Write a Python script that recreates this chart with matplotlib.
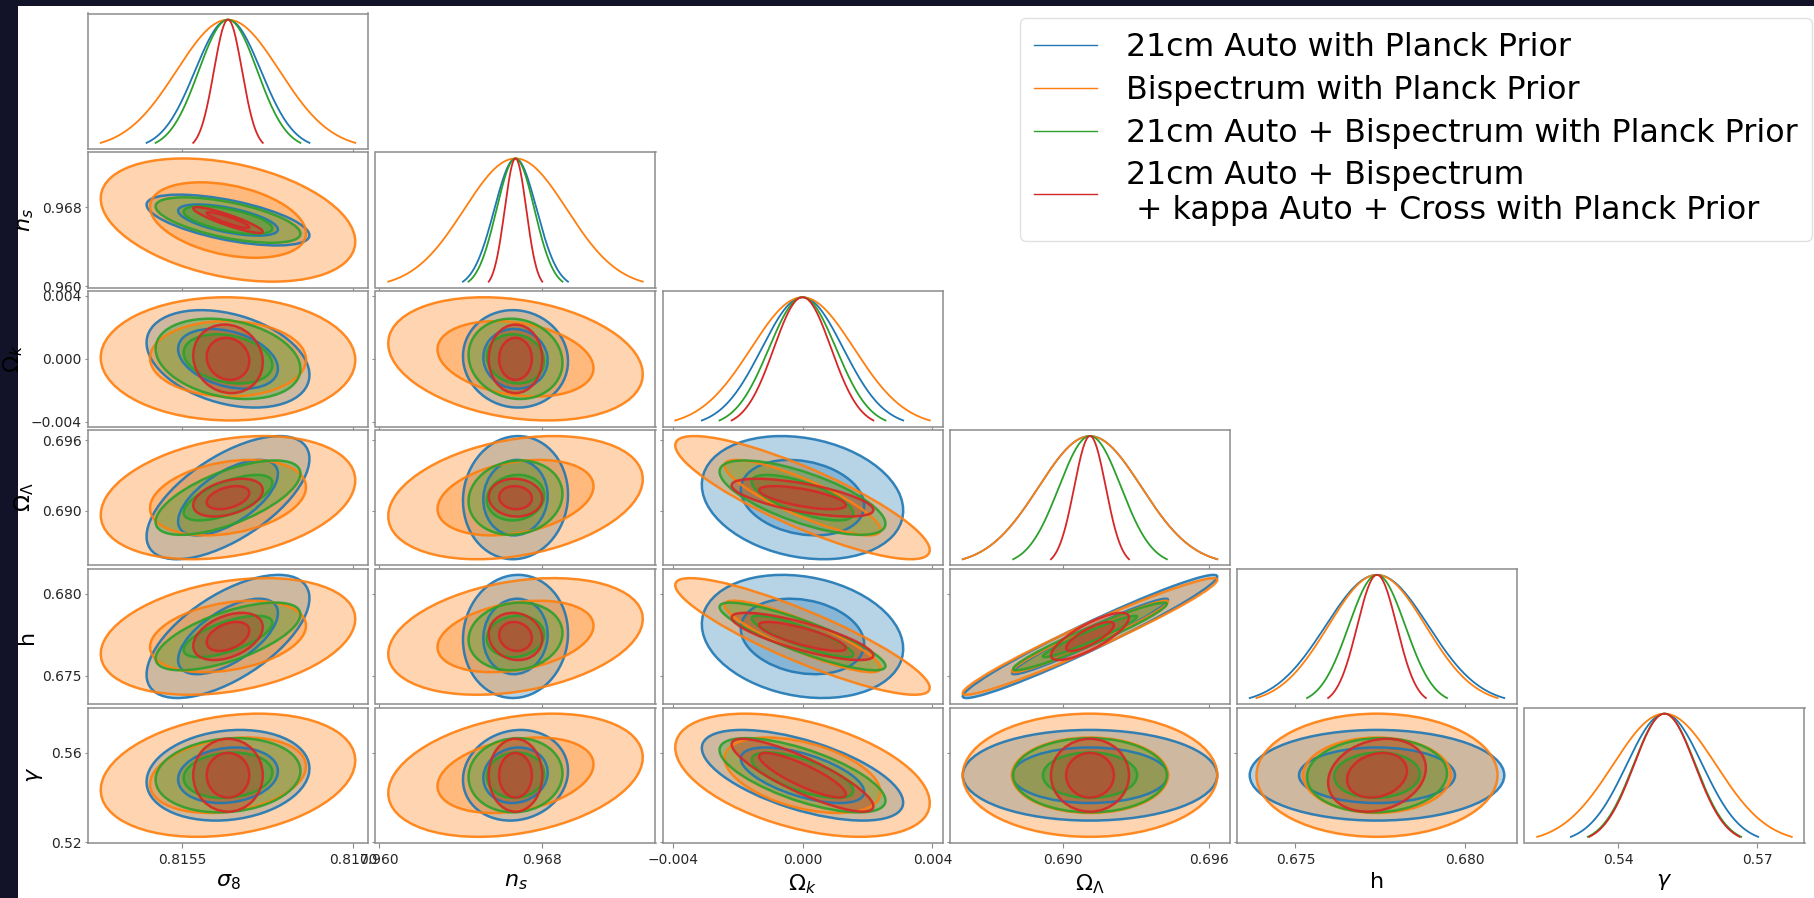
import numpy as np
import matplotlib.pyplot as plt
from matplotlib.patches import Ellipse, Rectangle
from matplotlib.colors import to_rgba

names = [r'$\sigma_8$', r'$n_s$', r'$\Omega_k$', r'$\Omega_\Lambda$', 'h', r'$\gamma$']
fiducial = [0.8159, 0.9667, 0.0, 0.6911, 0.6774, 0.55]

labels = ['21cm Auto with Planck Prior',
          'Bispectrum with Planck Prior',
          '21cm Auto + Bispectrum with Planck Prior',
          '21cm Auto + Bispectrum\n + kappa Auto + Cross with Planck Prior']
colors = ['tab:blue', 'tab:orange', 'tab:green', 'tab:red']

# marginalised 1-sigma errors: sigma8, ns, Ok, OL, h, gamma
sig_auto = [0.000288, 0.00104, 0.00125, 0.00212, 0.00151, 0.00817]
sig_bisp = [0.000450, 0.00252, 0.00158, 0.00212, 0.00143, 0.01110]
sig_comb = [0.000256, 0.00093, 0.00103, 0.00128, 0.00083, 0.00669]
sig_all = [0.000123, 0.00053, 0.00088, 0.00065, 0.00058, 0.00656]

# correlation coefficients, lower triangle (rows: ns, Ok, OL, h, gamma)
rho_auto = [[-0.60],
            [-0.33, -0.05],
            [0.63, 0.05, -0.21],
            [0.62, 0.05, -0.20, 0.97],
            [0.15, 0.10, -0.60, 0.00, 0.00]]
rho_bisp = [[-0.35],
            [-0.02, -0.25],
            [0.28, 0.30, -0.85],
            [0.30, 0.30, -0.88, 0.97],
            [0.24, 0.29, -0.45, 0.00, 0.00]]
rho_comb = [[-0.60],
            [-0.25, -0.10],
            [0.65, 0.10, -0.70],
            [0.65, 0.10, -0.87, 0.96],
            [0.12, 0.05, -0.68, 0.00, 0.05]]
rho_all = [[-0.90],
           [-0.10, 0.00],
           [0.40, -0.05, -0.65],
           [0.40, -0.10, -0.80, 0.80],
           [0.00, 0.00, -0.85, 0.00, 0.20]]

xtick_vals = [[0.8155, 0.8170], [0.960, 0.968], [-0.004, 0.0, 0.004],
              [0.690, 0.696], [0.675, 0.680], [0.54, 0.57]]
xtick_txt = [['0.8155', '0.8170'], ['0.960', '0.968'], ['\u22120.004', '0.000', '0.004'],
             ['0.690', '0.696'], ['0.675', '0.680'], ['0.54', '0.57']]
ytick_vals = [None, [0.960, 0.968], [-0.004, 0.0, 0.004],
              [0.690, 0.696], [0.675, 0.680], [0.52, 0.56]]
ytick_txt = [None, ['0.960', '0.968'], ['\u22120.004', '0.000', '0.004'],
             ['0.690', '0.696'], ['0.675', '0.680'], ['0.52', '0.56']]

sigmas = [sig_auto, sig_bisp, sig_comb, sig_all]
rhos = [rho_auto, rho_bisp, rho_comb, rho_all]

K_OUT, K_IN = 2.48, 1.52
n = len(names)

W, H = 1815, 898
fig = plt.figure(figsize=(W / 100, H / 100), dpi=100)
fig.patch.set_facecolor('#121228')
fig.add_artist(Rectangle((18 / W, 0), 1 - 18 / W, (H - 6) / H, transform=fig.transFigure,
                         facecolor='white', edgecolor='none', zorder=-10))

col_left = [88, 375.5, 662.5, 950, 1237, 1524.5]
pw, ph = 280, 135.5
row_top = [13.5 + 138.8 * k for k in range(n)]

half = [1.1 * K_OUT * max(s[p] for s in sigmas) for p in range(n)]
lims = [(fiducial[p] - half[p], fiducial[p] + half[p]) for p in range(n)]


def style(ax):
    for sp in ax.spines.values():
        sp.set_color('0.55')
        sp.set_linewidth(1.1)
    ax.tick_params(color='0.55', labelsize=10, labelcolor='0.15')
    ax.tick_params(axis='y', length=2.5, pad=2)


def ellipse_shapes(x0, y0, sx, sy, r):
    cov = np.array([[sx ** 2, r * sx * sy], [r * sx * sy, sy ** 2]])
    vals, vecs = np.linalg.eigh(cov)
    ang = np.degrees(np.arctan2(vecs[1, 1], vecs[0, 1]))
    return [((x0, y0), 2 * k * np.sqrt(vals[1]), 2 * k * np.sqrt(vals[0]), ang)
            for k in [K_OUT, K_IN]]


handles = []
for i in range(n):
    for j in range(i + 1):
        rect = [col_left[j] / W, 1 - (row_top[i] + ph) / H, pw / W, ph / H]
        ax = fig.add_axes(rect)
        style(ax)
        if i == j:
            for d in range(4):
                s = sigmas[d][i]
                x = np.linspace(fiducial[i] - K_OUT * s, fiducial[i] + K_OUT * s, 400)
                y = np.exp(-0.5 * ((x - fiducial[i]) / s) ** 2)
                ln, = ax.plot(x, y, color=colors[d], lw=1.3)
                if i == 0:
                    handles.append(ln)
            ax.set_yticks([])
        else:
            shapes = []
            for d in range(4):
                for sh in ellipse_shapes(fiducial[j], fiducial[i], sigmas[d][j], sigmas[d][i],
                                         rhos[d][i - 1][j]):
                    shapes.append((sh, colors[d]))
            for (c0, w, h, a), c in shapes:
                ax.add_patch(Ellipse(c0, w, h, angle=a, facecolor=to_rgba(c, 0.32),
                                     edgecolor='none'))
            for (c0, w, h, a), c in shapes:
                ax.add_patch(Ellipse(c0, w, h, angle=a, facecolor='none', edgecolor=c,
                                     lw=1.8, alpha=0.9))
            ax.set_ylim(lims[i])
            ax.set_yticks(ytick_vals[i])
            if j == 0:
                ax.set_yticklabels(ytick_txt[i])
                ax.set_ylabel(names[i], fontsize=16)
            else:
                ax.set_yticklabels([])
        ax.set_xlim(lims[j])
        ax.set_xticks(xtick_vals[j])
        if i == n - 1:
            ax.set_xticklabels(xtick_txt[j])
            ax.set_xlabel(names[j], fontsize=16)
        else:
            ax.set_xticklabels([])

leg = fig.legend(handles, labels, loc='upper right', bbox_to_anchor=(1812 / W, 1 - 18 / H),
                 fontsize=22.8, handlelength=2.0, handletextpad=0.9, labelspacing=0.37,
                 borderpad=0.45, borderaxespad=0, frameon=True, fancybox=True)
leg.get_frame().set_edgecolor('0.85')
leg.get_texts()[3].set_linespacing(1.17)
for ln in leg.get_lines():
    ln.set_linewidth(1.0)

fig.savefig('out.png', dpi=100, facecolor=fig.get_facecolor())
